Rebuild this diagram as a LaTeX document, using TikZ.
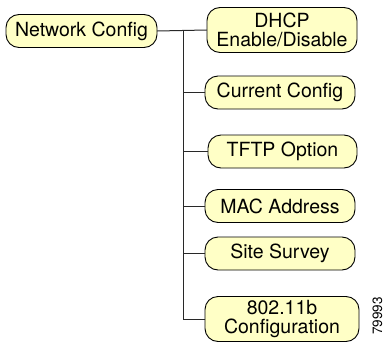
\documentclass[tikz,border=0pt]{standalone}
\usepackage{fontspec}
\setmainfont{TeX Gyre Heros}
\usepackage{tikz}
\usetikzlibrary{positioning}
\definecolor{menufill}{RGB}{255,255,198}
\definecolor{menuline}{RGB}{40,40,40}

\begin{document}
\begin{tikzpicture}[x=1pt,y=1pt,line cap=round,
 menubox/.style={draw=black,fill=menufill,rounded corners=13pt,line width=.9pt,
   align=center,inner sep=0pt,minimum width=150pt,minimum height=33pt,
   font=\fontsize{19.5}{19}\selectfont},
 tallbox/.style={menubox,minimum height=45pt},
 branch/.style={menuline,line width=1pt}]
\useasboundingbox (0,0) rectangle (385,341);
\node[menubox,minimum width=151pt] (netcfg) at (81.5,310) {Network Config};
\node[tallbox] (dhcp) at (282,311) {DHCP\\Enable/Disable};
\node[menubox] (curcfg) at (280,248.5) {Current Config};
\node[menubox,minimum width=149pt] (tftp) at (282.5,189.5) {TFTP Option};
\node[menubox] (mac) at (280,135) {MAC Address};
\node[menubox] (survey) at (280,87.5) {Site Survey};
\node[tallbox,minimum width=154pt] (dot11) at (282,22) {802.11b\\Configuration};
\coordinate (trunk) at (183,310);
\draw[branch] (netcfg.east) -- (dhcp.west);
\draw[branch] (trunk) |- (curcfg.west);
\draw[branch] (trunk) |- (tftp.west);
\draw[branch] (trunk) |- (mac.west);
\draw[branch] (trunk) |- (survey.west);
\draw[branch] (trunk) |- (dot11.west);
\node[rotate=90,font=\fontsize{13.5}{13.5}\selectfont] (figno) at (377.5,25) {79993};
\end{tikzpicture}
\end{document}
